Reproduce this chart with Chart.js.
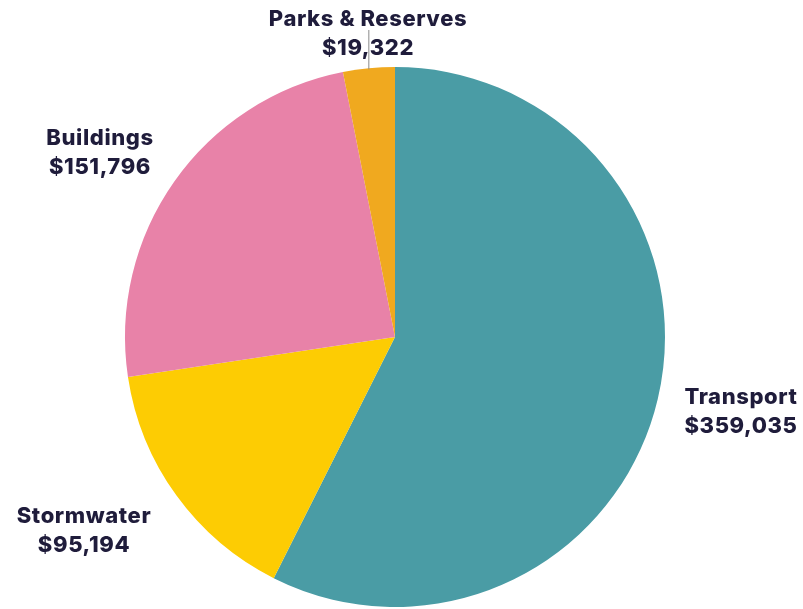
<!DOCTYPE html>
<html>
<head>
<meta charset="utf-8">
<script src="https://cdn.jsdelivr.net/npm/chart.js@4"></script>
<style>
  html, body { margin: 0; padding: 0; background: #ffffff; }
  #wrap { width: 803px; height: 609px; }
</style>
</head>
<body>
<div id="wrap"><canvas id="gastos" width="803" height="609"></canvas></div>
<script>
const categorias = ['Transport', 'Stormwater', 'Buildings', 'Parks & Reserves'];
const valores = [359035, 95194, 151796, 19322];
const colores = ['#4a9ca5', '#fdcc03', '#e882a8', '#f0a91f'];

// where each label's text block sits (centre x, first line y)
const posEtiquetas = [
  { x: 741, y: 397 },
  { x: 84, y: 516 },
  { x: 100, y: 138 },
  { x: 368, y: 19 }
];

function formatoDinero(v) {
  return '$' + v.toLocaleString('en-US');
}

const etiquetas = {
  id: 'etiquetas',
  afterDraw(chart) {
    const ctx = chart.ctx;
    const arcos = chart.getDatasetMeta(0).data;
    ctx.save();

    // leader line for the small slice
    const a = arcos[3].getProps(['x', 'y', 'startAngle', 'endAngle', 'outerRadius'], true);
    const mid = (a.startAngle + a.endAngle) / 2;
    const px = a.x + Math.cos(mid) * a.outerRadius;
    const py = a.y + Math.sin(mid) * a.outerRadius;
    ctx.strokeStyle = '#8a8a8a';
    ctx.lineWidth = 1;
    ctx.beginPath();
    ctx.moveTo(px, py + 1);
    ctx.lineTo(px, 30);
    ctx.stroke();

    ctx.fillStyle = '#1f1c3b';
    ctx.font = '800 22px Inter, "DejaVu Sans", sans-serif';
    ctx.letterSpacing = '0.6px';
    ctx.textAlign = 'center';
    ctx.textBaseline = 'middle';
    categorias.forEach((c, i) => {
      const p = posEtiquetas[i];
      ctx.fillText(c, p.x, p.y);
      ctx.fillText(formatoDinero(valores[i]), p.x, p.y + 29);
    });
    ctx.restore();
  }
};

const lienzo = document.getElementById('gastos').getContext('2d');
const graf_gastos = new Chart(lienzo, {
  type: 'pie',
  data: {
    labels: categorias,
    datasets: [{
      data: valores,
      backgroundColor: colores,
      borderWidth: 0
    }]
  },
  options: {
    responsive: false,
    animation: false,
    layout: {
      padding: { left: 125, right: 138, top: 67, bottom: 2 }
    },
    plugins: {
      legend: { display: false },
      tooltip: { enabled: false }
    }
  },
  plugins: [etiquetas]
});
</script>
</body>
</html>
